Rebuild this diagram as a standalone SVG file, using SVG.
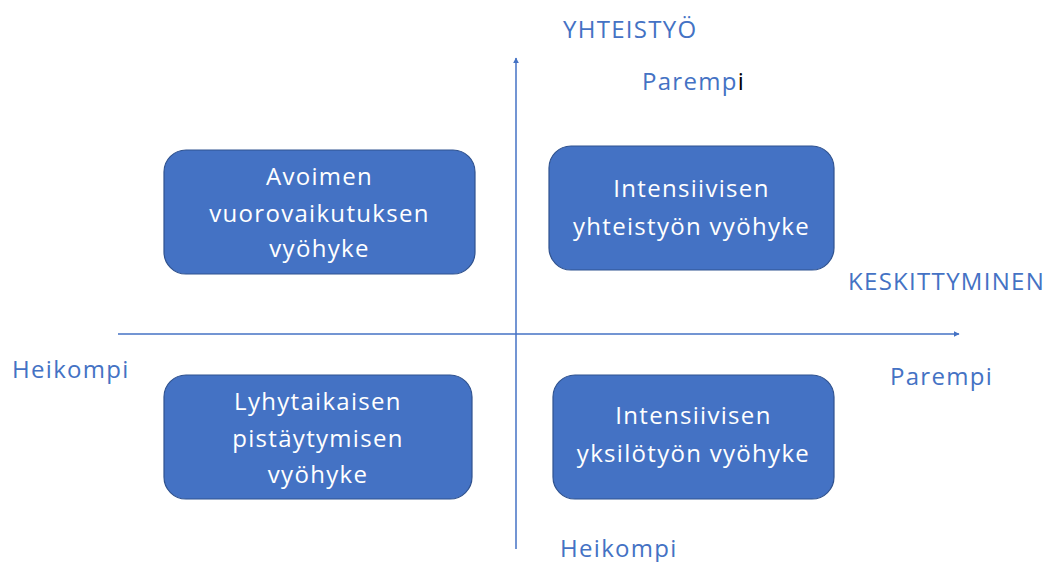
<svg xmlns="http://www.w3.org/2000/svg" width="1054" height="562" viewBox="0 0 1054 562">
<defs>
<marker id="arr" viewBox="0 0 10 10" refX="9" refY="5" markerWidth="6" markerHeight="6" orient="auto" markerUnits="userSpaceOnUse">
<path d="M0,0 L10,5 L0,10 Z" fill="#4472C4"/>
</marker>
<style>
.box{fill:#4472C4;stroke:#2F528F;stroke-width:1.2}
.bt{font-family:"Open Sans","Liberation Sans",sans-serif;font-size:24px;fill:#FFFFFF;text-anchor:middle;letter-spacing:1.3px}
.lbl{font-family:"Open Sans","Liberation Sans",sans-serif;font-size:24px;fill:#4472C4;letter-spacing:1.3px}
.ax{stroke:#4472C4;stroke-width:1.5;fill:none}
</style>
</defs>
<rect width="1054" height="562" fill="#FFFFFF"/>
<g id="connectors">
<line class="ax" x1="516" y1="549" x2="516" y2="58" marker-end="url(#arr)"/>
<line class="ax" x1="118" y1="334" x2="959" y2="334" marker-end="url(#arr)"/>
</g>
<g id="labels">
<text class="lbl" x="563" y="38">YHTEISTYÖ</text>
<text class="lbl" x="642" y="90">Paremp<tspan fill="#000000">i</tspan></text>
<text class="lbl" x="848" y="290">KESKITTYMINEN</text>
<text class="lbl" x="12" y="378">Heikompi</text>
<text class="lbl" x="890" y="385">Parempi</text>
<text class="lbl" x="560" y="557">Heikompi</text>
</g>
<g id="node-tl">
<rect class="box" x="164" y="150" width="311" height="124" rx="22"/>
<text class="bt" x="319.5" y="185">Avoimen</text>
<text class="bt" x="319.5" y="222">vuorovaikutuksen</text>
<text class="bt" x="319.5" y="257">vyöhyke</text>
</g>
<g id="node-tr">
<rect class="box" x="549" y="146" width="285" height="124" rx="22"/>
<text class="bt" x="691.5" y="197">Intensiivisen</text>
<text class="bt" x="691.5" y="235">yhteistyön vyöhyke</text>
</g>
<g id="node-bl">
<rect class="box" x="164" y="375" width="308" height="124" rx="22"/>
<text class="bt" x="318" y="410">Lyhytaikaisen</text>
<text class="bt" x="318" y="447">pistäytymisen</text>
<text class="bt" x="318" y="483">vyöhyke</text>
</g>
<g id="node-br">
<rect class="box" x="553" y="375" width="281" height="124" rx="22"/>
<text class="bt" x="693.5" y="424">Intensiivisen</text>
<text class="bt" x="693.5" y="462">yksilötyön vyöhyke</text>
</g>
</svg>
